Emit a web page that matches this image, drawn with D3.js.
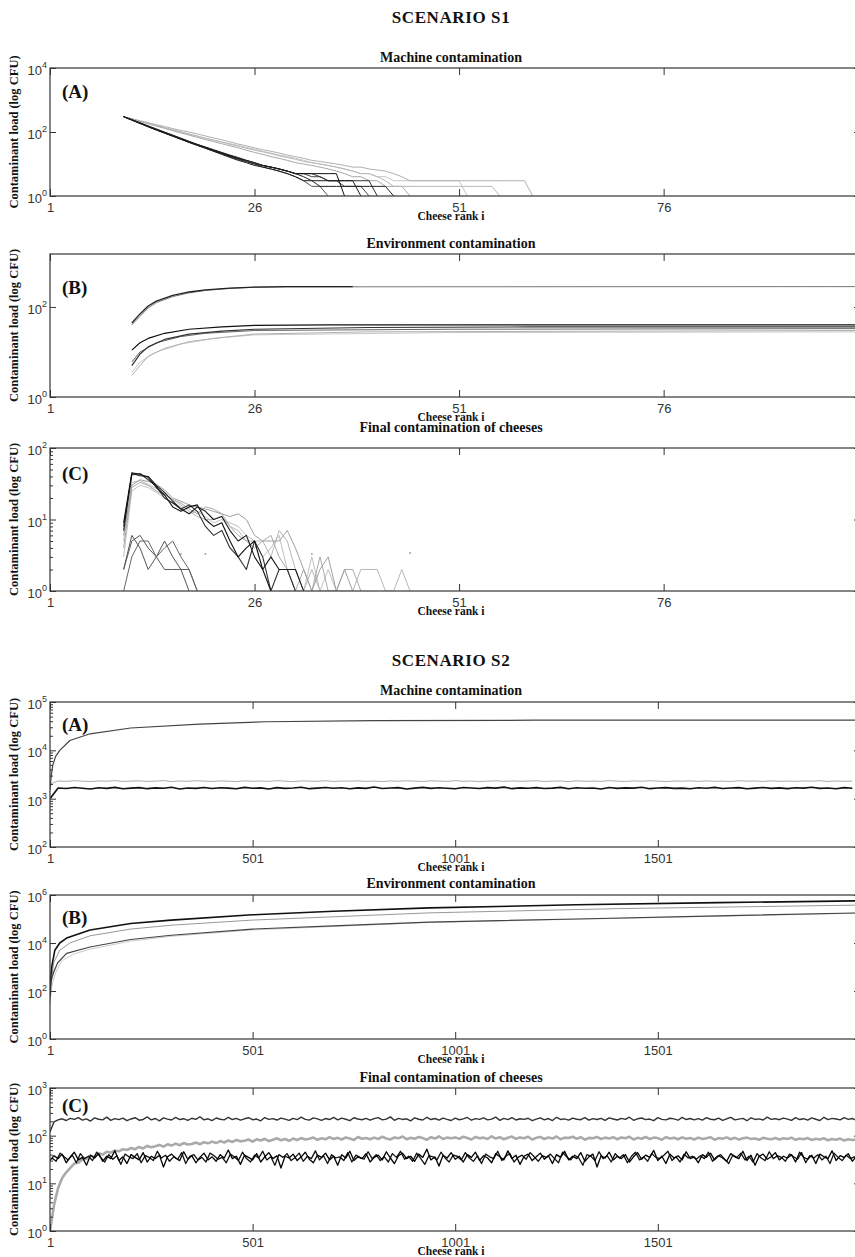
<!DOCTYPE html>
<html>
<head>
<meta charset="utf-8">
<script src="https://cdn.jsdelivr.net/npm/d3@7/dist/d3.min.js"></script>
<style>
  body { margin: 0; background: #fff; }
  .tick-label { font-family: 'Liberation Sans', Arial, sans-serif; fill: #333; }
  .ttl { font-family: 'Liberation Serif', 'Times New Roman', serif; font-weight: bold; fill: #111; }
</style>
</head>
<body>
<svg id="chart" width="855" height="1257"></svg>
<script>
// ---------- axis ticks ----------
const s1Ticks = [1, 26, 51, 76];
const s2Ticks = [1, 501, 1001, 1501];

// ---------- SCENARIO S1 (values by cheese rank, starting at given rank) ----------
// (A) machine contamination, from rank 10
const s1MachStart = 10;
const s1MachBlack1 = [300,240,190,150,120,96,78,62,50,40,33,27,22,18,15,13,11,9,8,7,6,5,5,5,5,5,5,1];
const s1MachBlack2 = [300,235,185,145,115,92,74,59,47,38,31,25,20,16,13,11,9,8,7,6,5,4,3,3,3,3,3,3,3,1];
const s1MachBlack3 = [300,245,195,155,125,100,80,64,51,41,34,28,23,19,16,13,11,9,8,7,6,5,4,3,2,2,2,2,2,2,2,2,2,1];
const s1MachDark1 = [300,238,188,148,117,93,75,60,48,39,32,26,21,17,14,12,10,8,7,6,5,4,3,2,2,1];
const s1MachDark2 = [300,242,192,152,121,97,78,63,50,41,33,27,22,18,15,12,10,9,8,7,6,5,5,4,4,3,3,2,2,2,1];
const s1MachDark3 = [300,236,184,146,116,93,74,60,48,39,31,25,21,17,14,12,10,9,8,7,6,5,5,5,4,3,3,3,3,3,3,1];
const s1MachGray1 = [300,260,225,195,170,148,128,112,100,87,75,65,57,49,42,37,32,28,25,22,19,17,15,13,12,11,10,9,8,8,7,6.5,6,5,4,3,3,3,3,3,3,3,3,3,3,3,3,3,3,3,1];
const s1MachGray2 = [300,255,218,186,160,137,118,101,87,75,64,55,48,41,36,31,27,24,21,18,16,14,12,11,10,9,8,7,6,5,5,4,3,2,2,2,2,2,2,2,2,2,2,2,2,2,1];
const s1MachGray3 = [300,250,212,180,153,130,110,94,80,68,58,50,43,37,32,27,23,20,17,15,13,11,10,9,8,7,6,5,4,4,3,3,2,2,2,1];
const s1MachGray4 = [300,252,214,182,156,134,115,99,86,74,64,56,49,43,38,33,29,25,22,19,17,15,13,11,10,9,8,7,6,5,5,4,4,3,3,3,3,3,3,3,3,3,1];

// (B) environment contamination, [rank, value]
const s1EnvTopDark = [[11,44],[12,70],[13,105],[14,135],[16,180],[18,215],[20,240],[23,262],[26,277],[30,282],[38,284]];
const s1EnvTopGray = [[11,40],[12,62],[13,95],[14,125],[16,170],[18,205],[20,232],[23,258],[26,274],[30,280],[100,283]];
const s1EnvBlack1 = [[11,11],[12,16],[13,20],[15,26],[18,32],[22,36],[26,39],[35,40],[100,40]];
const s1EnvBlack2 = [[11,5],[12,9],[13,13],[15,19],[18,25],[22,29],[26,32],[40,35],[60,36],[100,36]];
const s1EnvDark = [[11,6],[12,10],[14,16],[17,22],[20,26],[26,30],[50,32],[100,33]];
const s1EnvLight1 = [[11,3],[12,5],[13,8],[15,12],[18,17],[22,21],[26,25],[40,28],[100,30]];
const s1EnvLight2 = [[11,3.5],[12,6],[14,10],[17,15],[21,20],[26,24],[50,27],[100,28]];

// (C) final contamination of cheeses, from rank 10
const s1FinalStart = 10;
const s1FinalBlack1 = [9,45,43,39,28,22,15,13,15,16,10,8,9,5,3,4,5,2,1];
const s1FinalBlack2 = [7,44,41,40,30,24,18,14,12,15,13,10,11,7,5,6,3,2,3,2,2,2,1];
const s1FinalBlack3 = [8,42,44,36,29,20,17,14,16,13,8,6,7,4,3,2,5,3,1,2,2,1];
const s1FinalDark1 = [2,6,4,2,3,5,3,2,1];
const s1FinalDark2 = [2,5,6,4,3,2,2,2,2,1];
const s1FinalDark3 = [1,3,5,5,3,4,5,3,2,1];
const s1FinalLight1 = [6,30,36,34,31,26,20,18,16,15,14,13,12,11,12,10,6,5,5,5,7,4,2,1,2,3,1,2,1];
const s1FinalLight2 = [4,28,33,30,25,22,19,17,14,12,15,14,12,8,6,5,4,5,6,3,2,1,2,1,3,1,1,2,2,1];
const s1FinalLight3 = [5,33,35,31,27,23,19,16,13,11,10,10,11,8,7,5,5,5,3,7,5,2,1,2,1,1,1,1,1,2,2,2,1,1,2,1];
const s1FinalLight4 = [3,25,30,28,24,20,17,15,12,13,11,9,10,9,8,6,5,3,4,6,2,1,1,3,1,2,1];
const s1FinalDots = [[17,3.3],[20,3.3],[33,3.3],[45,3.4]];

// ---------- SCENARIO S2 ----------
// (A) machine contamination
const s2MachTop = [[1,1500],[4,3000],[8,5000],[15,7500],[25,10000],[50,16000],[100,22000],[200,29000],[370,35000],[535,39000],[800,41000],[1200,42000],[2000,42000]];
// noisy levels, one value every 20 ranks from rank 1
const s2MachStep = 20;
const s2MachBlack = [1000,1660,1620,1700,1640,1590,1680,1630,1710,1600,1650,1690,1610,1670,1640,1720,1590,1660,1630,1700,
  1620,1680,1650,1600,1710,1640,1670,1590,1690,1630,1660,1720,1610,1650,1700,1640,1680,1600,1670,1630,
  1740,1620,1660,1690,1590,1650,1710,1630,1680,1640,1600,1700,1660,1620,1690,1650,1730,1610,1670,1640,
  1690,1620,1650,1710,1600,1680,1640,1660,1590,1700,1630,1670,1650,1720,1610,1660,1690,1630,1650,1600,
  1680,1640,1710,1620,1660,1690,1600,1650,1700,1630,1670,1610,1680,1650,1720,1630,1660,1600,1690,1640];
const s2MachGray = [2000,2320,2280,2350,2300,2260,2330,2290,2360,2270,2310,2340,2280,2300,2370,2260,2320,2290,2350,2310,
  2270,2330,2300,2260,2340,2290,2320,2280,2360,2300,2250,2330,2310,2290,2350,2270,2320,2300,2340,2280,
  2310,2260,2330,2290,2350,2300,2270,2340,2310,2280,2360,2290,2320,2260,2300,2340,2280,2330,2290,2310,
  2350,2270,2300,2320,2260,2340,2290,2310,2280,2360,2300,2270,2330,2290,2350,2310,2260,2320,2300,2340,
  2280,2330,2290,2310,2260,2350,2300,2320,2270,2340,2290,2310,2280,2330,2300,2350,2270,2320,2290,2310];

// (B) environment contamination
const s2EnvTop = [[1,60],[3,400],[6,1200],[13,5000],[25,10000],[42,16000],[100,35000],[200,65000],[300,90000],[500,150000],[700,210000],[937,290000],[1300,390000],[1650,480000],[2000,570000]];
const s2EnvGray = [[1,30],[4,200],[10,1500],[25,5000],[50,10000],[100,20000],[200,38000],[300,55000],[500,90000],[937,180000],[1400,270000],[2000,380000]];
const s2EnvLower = [[1,100],[3,250],[10,600],[20,1500],[42,3700],[100,6800],[200,14000],[300,21000],[500,38000],[700,52000],[937,74000],[1300,100000],[1650,135000],[2000,180000]];
const s2EnvFaint = [[1,30],[5,150],[15,600],[30,1800],[60,3500],[100,5500],[200,12000],[300,19000],[500,35000],[937,72000],[2000,175000]];

// (C) final contamination, one value every 10 ranks
const s2FinalStep = 10;
const s2FinalTop = [120,195,214,226,208,231,219,240,212,225,203,236,221,214,245,209,228,217,233,206,
  224,238,211,219,247,215,229,204,236,222,213,241,218,227,209,232,220,249,214,226,
  207,235,221,214,243,218,230,211,226,238,216,223,205,240,219,228,213,234,222,210,
  231,217,244,220,212,236,225,209,229,218,242,214,233,221,207,238,224,216,230,211,
  227,239,215,222,248,210,231,219,226,204,237,221,213,243,218,229,212,234,220,208,
  233,216,225,241,211,228,219,236,214,222,246,209,230,217,239,213,226,220,232,206,
  222,237,214,229,208,243,219,225,212,234,221,216,240,211,228,218,231,209,236,224,
  213,230,219,244,210,226,235,217,223,207,239,220,214,232,225,211,242,218,229,215,
  228,212,238,221,216,233,209,226,241,214,222,230,206,237,219,225,213,245,220,227,
  216,234,223,210,239,218,227,212,236,221,208,243,217,231,224,214,238,219,229,211];
const s2FinalGray = [1,3.5,8,13,17,21,26,27,32,33,38,36,43,40,46,44,49,47,52,50,
  55,52,58,54,61,57,60,64,59,66,62,68,63,70,65,67,72,66,73,69,
  75,70,77,72,79,74,81,76,78,83,75,84,79,86,77,82,88,80,85,78,
  87,81,89,83,86,91,82,88,84,93,85,90,83,92,87,81,94,86,89,84,
  91,85,95,87,83,92,88,96,84,90,86,94,89,82,93,87,97,85,91,88,
  92,86,95,89,83,94,88,91,85,97,87,93,84,90,96,86,92,88,95,83,
  90,94,85,92,87,96,84,91,89,95,86,93,82,90,88,94,85,91,87,93,
  84,92,88,95,83,90,86,94,85,91,89,82,93,87,90,84,92,86,89,83,
  91,85,88,93,82,89,86,92,84,90,83,88,91,85,87,82,90,86,84,89,
  83,88,85,91,82,87,84,89,81,86,83,88,80,85,82,87,79,84,81,83];
// black run 1 at ranks 1, 11, 21 ... ; black run 2 at ranks 6, 16, 26 ...
const s2FinalBlack = [30,38,33,41,27,36,45,31,35,24,39,34,42,29,37,33,48,30,36,26,
  40,35,31,44,28,37,33,39,22,36,41,34,30,46,32,38,27,35,43,31,
  36,29,40,34,50,33,37,25,39,35,31,42,28,36,44,33,38,21,37,34,
  41,30,36,45,32,27,39,35,43,31,37,24,40,34,47,30,36,33,42,28,
  35,39,31,46,34,26,38,43,33,37,29,41,35,52,31,36,23,39,34,44,
  32,37,28,40,35,45,30,38,34,27,42,36,31,48,33,39,25,37,41,30,
  36,43,32,38,26,40,35,47,31,37,33,44,29,36,41,22,38,34,45,31,
  37,33,40,28,36,44,32,39,35,49,30,37,26,41,34,38,31,46,33,36,
  27,40,35,43,31,38,34,29,42,36,33,47,30,39,24,37,41,32,36,44,
  31,37,34,40,28,45,35,32,39,26,41,36,33,48,30,38,35,42,29,37];
const s2FinalBlack2 = [34,29,43,36,31,39,27,42,33,37,30,45,35,28,40,32,38,25,41,36,
  33,42,27,38,35,30,47,34,39,29,36,32,44,26,37,40,31,35,28,43,
  38,32,35,27,41,36,30,45,33,28,39,34,47,31,36,24,40,35,42,30,
  35,43,29,37,33,48,31,38,26,40,34,36,30,44,28,39,35,32,46,33,
  40,30,36,28,42,35,47,32,37,29,43,33,25,38,36,31,45,34,28,39,
  37,31,44,34,29,38,26,41,36,33,47,30,37,42,28,35,39,32,44,36,
  29,38,35,41,33,27,45,36,31,39,34,24,40,37,30,46,33,38,28,42,
  34,40,27,37,45,31,36,29,42,35,33,39,47,30,36,28,41,34,37,32,
  38,33,45,29,36,40,32,26,39,35,43,31,37,28,42,34,30,46,33,38,
  35,29,41,36,32,44,27,38,34,40,31,37,26,43,35,30,39,33,36,34];

// ---------- helpers ----------
const fromStart = (vals, start) => vals.map((v, i) => [start + i, v]);
const fromStep = (vals, step, first = 1) => vals.map((v, i) => [first + i * step, v]);

const X0 = 50, X1 = 860, XC = 451;
const svg = d3.select('#chart');

const panels = [
  { letter: '(A)', title: 'Machine contamination', top: 68, bottom: 196, titleY: 57, letterY: 91,
    xDomain: [1, 100], xTicks: s1Ticks, yDomain: [1, 1e4], yExp: [0, 2, 4], minor: false,
    series: [
      { pts: fromStart(s1MachGray4, s1MachStart), color: '#c4c4c4', w: 1 },
      { pts: fromStart(s1MachGray3, s1MachStart), color: '#a8a8a8', w: 1 },
      { pts: fromStart(s1MachGray2, s1MachStart), color: '#b8b8b8', w: 1 },
      { pts: fromStart(s1MachGray1, s1MachStart), color: '#b0b0b0', w: 1 },
      { pts: fromStart(s1MachDark1, s1MachStart), color: '#555', w: 1 },
      { pts: fromStart(s1MachDark2, s1MachStart), color: '#444', w: 1 },
      { pts: fromStart(s1MachDark3, s1MachStart), color: '#333', w: 1 },
      { pts: fromStart(s1MachBlack1, s1MachStart), color: '#111', w: 1 },
      { pts: fromStart(s1MachBlack2, s1MachStart), color: '#1a1a1a', w: 1 },
      { pts: fromStart(s1MachBlack3, s1MachStart), color: '#222', w: 1 }
    ] },
  { letter: '(B)', title: 'Environment contamination', top: 254, bottom: 397, titleY: 243, letterY: 287,
    xDomain: [1, 100], xTicks: s1Ticks, yDomain: [1, 1500], yExp: [0, 2], minor: false,
    series: [
      { pts: s1EnvLight2, color: '#c8c8c8', w: 1 },
      { pts: s1EnvLight1, color: '#b0b0b0', w: 1 },
      { pts: s1EnvDark, color: '#666', w: 1 },
      { pts: s1EnvBlack2, color: '#333', w: 1.2 },
      { pts: s1EnvBlack1, color: '#111', w: 1.2 },
      { pts: s1EnvTopGray, color: '#777', w: 1 },
      { pts: s1EnvTopDark, color: '#222', w: 1.3 }
    ] },
  { letter: '(C)', title: 'Final contamination of cheeses', top: 448, bottom: 591, titleY: 427, letterY: 473,
    xDomain: [1, 100], xTicks: s1Ticks, yDomain: [1, 100], yExp: [0, 1, 2], minor: true,
    dots: s1FinalDots,
    series: [
      { pts: fromStart(s1FinalLight4, s1FinalStart), color: '#c0c0c0', w: 1 },
      { pts: fromStart(s1FinalLight3, s1FinalStart), color: '#b8b8b8', w: 1 },
      { pts: fromStart(s1FinalLight2, s1FinalStart), color: '#aaa', w: 1 },
      { pts: fromStart(s1FinalLight1, s1FinalStart), color: '#a0a0a0', w: 1 },
      { pts: fromStart(s1FinalDark1, s1FinalStart), color: '#555', w: 1 },
      { pts: fromStart(s1FinalDark2, s1FinalStart), color: '#5a5a5a', w: 1 },
      { pts: fromStart(s1FinalDark3, s1FinalStart), color: '#666', w: 1 },
      { pts: fromStart(s1FinalBlack3, s1FinalStart), color: '#333', w: 1.1 },
      { pts: fromStart(s1FinalBlack2, s1FinalStart), color: '#1a1a1a', w: 1.1 },
      { pts: fromStart(s1FinalBlack1, s1FinalStart), color: '#111', w: 1.1 }
    ] },
  { letter: '(A)', title: 'Machine contamination', top: 702, bottom: 847, titleY: 690, letterY: 724,
    xDomain: [1, 2000], xTicks: s2Ticks, yDomain: [100, 1e5], yExp: [2, 3, 4, 5], minor: true,
    series: [
      { pts: fromStep(s2MachGray, s2MachStep), color: '#aaa', w: 1 },
      { pts: fromStep(s2MachBlack, s2MachStep), color: '#111', w: 1.6 },
      { pts: s2MachTop, color: '#444', w: 1.2 }
    ] },
  { letter: '(B)', title: 'Environment contamination', top: 895, bottom: 1039, titleY: 883, letterY: 917,
    xDomain: [1, 2000], xTicks: s2Ticks, yDomain: [1, 1e6], yExp: [0, 2, 4, 6], minor: false,
    series: [
      { pts: s2EnvFaint, color: '#ccc', w: 1 },
      { pts: s2EnvGray, color: '#999', w: 1 },
      { pts: s2EnvLower, color: '#444', w: 1.2 },
      { pts: s2EnvTop, color: '#111', w: 1.6 }
    ] },
  { letter: '(C)', title: 'Final contamination of cheeses', top: 1088, bottom: 1231, titleY: 1077, letterY: 1105,
    xDomain: [1, 2000], xTicks: s2Ticks, yDomain: [1, 1000], yExp: [0, 1, 2, 3], minor: true,
    series: [
      { pts: fromStep(s2FinalGray, s2FinalStep), color: '#aaa', w: 2.6 },
      { pts: fromStep(s2FinalTop, s2FinalStep), color: '#333', w: 1.4 },
      { pts: fromStep(s2FinalBlack2, s2FinalStep, 6), color: '#111', w: 1.3 },
      { pts: fromStep(s2FinalBlack, s2FinalStep), color: '#000', w: 1.3 }
    ] }
];

// scenario headings
svg.append('text').attr('class', 'ttl').attr('x', XC).attr('y', 17).attr('dy', '0.35em')
  .attr('text-anchor', 'middle').style('font-size', '17px').style('letter-spacing', '0.6px').text('SCENARIO S1');
svg.append('text').attr('class', 'ttl').attr('x', XC).attr('y', 660).attr('dy', '0.35em')
  .attr('text-anchor', 'middle').style('font-size', '17px').style('letter-spacing', '0.6px').text('SCENARIO S2');

panels.forEach((p, idx) => {
  const x = d3.scaleLinear().domain(p.xDomain).range([X0, X1]);
  const y = d3.scaleLog().domain(p.yDomain).range([p.bottom, p.top]);
  const g = svg.append('g');

  const clipId = 'clip' + idx;
  svg.append('clipPath').attr('id', clipId).append('rect')
    .attr('x', X0).attr('y', p.top).attr('width', X1 - X0).attr('height', p.bottom - p.top);

  const line = d3.line().x(d => x(d[0])).y(d => y(d[1]));
  const plot = g.append('g').attr('clip-path', `url(#${clipId})`);
  p.series.forEach(s => {
    plot.append('path').datum(s.pts)
      .attr('fill', 'none')
      .attr('stroke', s.color)
      .attr('stroke-width', s.w)
      .attr('stroke-linejoin', 'round')
      .attr('d', line);
  });
  if (p.dots) {
    plot.selectAll('circle').data(p.dots).join('circle')
      .attr('cx', d => x(d[0])).attr('cy', d => y(d[1])).attr('r', 0.9).attr('fill', '#999');
  }

  // frame
  g.append('rect').attr('x', X0).attr('y', p.top)
    .attr('width', X1 - X0).attr('height', p.bottom - p.top)
    .attr('fill', 'none').attr('stroke', '#444').attr('stroke-width', 1.3);

  const strip = sel => { sel.select('.domain').remove(); sel.selectAll('line').attr('stroke', '#333'); };

  // x ticks (inward) bottom + top
  const xb = g.append('g').attr('transform', `translate(0,${p.bottom})`)
    .call(d3.axisBottom(x).tickValues(p.xTicks).tickSize(-7).tickPadding(7).tickFormat(d3.format('d')));
  strip(xb);
  xb.selectAll('text').attr('class', 'tick-label').style('font-size', '13px');
  const xt = g.append('g').attr('transform', `translate(0,${p.top})`)
    .call(d3.axisTop(x).tickValues(p.xTicks).tickSize(-7).tickFormat(''));
  strip(xt);

  // y ticks left + right
  const majors = p.yExp.map(e => Math.pow(10, e));
  const yl = g.append('g').attr('transform', `translate(${X0},0)`)
    .call(d3.axisLeft(y).tickValues(majors).tickSize(-6).tickFormat(''));
  strip(yl);
  const yr = g.append('g').attr('transform', `translate(${X1},0)`)
    .call(d3.axisRight(y).tickValues(majors).tickSize(-6).tickFormat(''));
  strip(yr);
  if (p.minor) {
    const lo = Math.log10(p.yDomain[0]), hi = Math.log10(p.yDomain[1]);
    const minors = [];
    for (let e = Math.floor(lo); e < Math.ceil(hi); e++) {
      for (let k = 2; k <= 9; k++) minors.push(k * Math.pow(10, e));
    }
    const ml = g.append('g').attr('transform', `translate(${X0},0)`)
      .call(d3.axisLeft(y).tickValues(minors).tickSize(-3).tickFormat(''));
    strip(ml);
    const mr = g.append('g').attr('transform', `translate(${X1},0)`)
      .call(d3.axisRight(y).tickValues(minors).tickSize(-3).tickFormat(''));
    strip(mr);
  }

  // y labels 10^n
  const lab = g.append('g').selectAll('text').data(p.yExp).join('text')
    .attr('class', 'tick-label')
    .attr('x', X0 - 3)
    .attr('y', e => y(Math.pow(10, e)) + 7)
    .attr('text-anchor', 'end')
    .style('font-size', '13px');
  lab.append('tspan').text('10');
  lab.append('tspan').attr('dy', -7).style('font-size', '9px').text(e => e);

  // titles
  g.append('text').attr('class', 'ttl').attr('x', XC).attr('y', p.titleY).attr('dy', '0.35em')
    .attr('text-anchor', 'middle').style('font-size', '14px').text(p.title);
  g.append('text').attr('class', 'ttl').attr('x', X0 + 12).attr('y', p.letterY).attr('dy', '0.35em')
    .style('font-size', '19px').text(p.letter);
  g.append('text').attr('class', 'ttl').attr('x', XC).attr('y', p.bottom + 20).attr('dy', '0.35em')
    .attr('text-anchor', 'middle').style('font-size', '11.5px').text('Cheese rank i');
  const cy = (p.top + p.bottom) / 2;
  g.append('text').attr('class', 'ttl')
    .attr('transform', `translate(14,${cy}) rotate(-90)`)
    .attr('dy', '0.35em').attr('text-anchor', 'middle')
    .style('font-size', '12.5px').text('Contaminant load (log CFU)');
});
</script>
</body>
</html>
